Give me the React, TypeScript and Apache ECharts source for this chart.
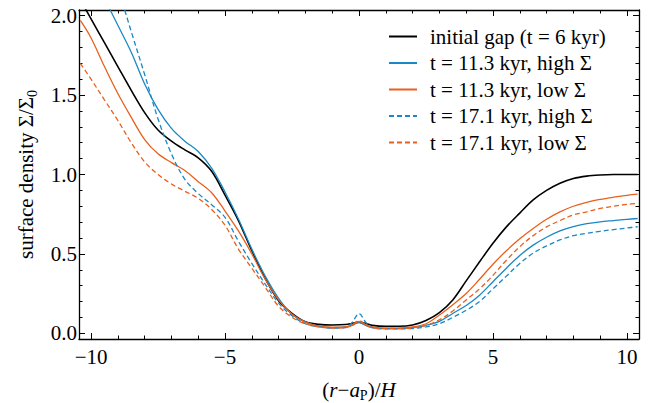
import React, { useEffect, useRef } from "react";
import * as echarts from "echarts";

const X_GRID = [-10.4, -10, -9.5, -9, -8.5, -8, -7.5, -7, -6.5, -6, -5.5, -5, -4.5, -4, -3.5, -3, -2.5, -2, -1.5, -1, -0.5, -0.25, 0, 0.25, 0.5, 1, 1.5, 2, 2.5, 3, 3.5, 4, 4.5, 5, 5.5, 6, 6.5, 7, 7.5, 8, 8.5, 9, 9.5, 10, 10.4];

const initialGap = [2.10, 1.98, 1.83, 1.68, 1.53, 1.39, 1.28, 1.21, 1.155, 1.105, 1.02, 0.87, 0.71, 0.52, 0.345, 0.205, 0.125, 0.072, 0.056, 0.052, 0.055, 0.062, 0.07, 0.062, 0.05, 0.044, 0.044, 0.052, 0.08, 0.13, 0.21, 0.33, 0.45, 0.567, 0.67, 0.757, 0.84, 0.90, 0.945, 0.975, 0.99, 0.997, 1.0, 1.0, 1.0];
const highSigma113 = [null, null, 2.11, 1.94, 1.77, 1.57, 1.41, 1.29, 1.21, 1.145, 1.04, 0.89, 0.72, 0.53, 0.36, 0.22, 0.12, 0.07, 0.045, 0.035, 0.04, 0.05, 0.068, 0.05, 0.035, 0.03, 0.03, 0.035, 0.05, 0.075, 0.125, 0.175, 0.24, 0.325, 0.41, 0.49, 0.555, 0.605, 0.645, 0.672, 0.69, 0.702, 0.71, 0.718, 0.723];
const lowSigma113 = [1.97, 1.86, 1.68, 1.51, 1.36, 1.22, 1.13, 1.075, 1.025, 0.955, 0.885, 0.77, 0.645, 0.50, 0.34, 0.21, 0.12, 0.07, 0.045, 0.038, 0.04, 0.055, 0.075, 0.055, 0.04, 0.032, 0.033, 0.04, 0.06, 0.115, 0.18, 0.25, 0.34, 0.435, 0.52, 0.595, 0.66, 0.718, 0.765, 0.80, 0.825, 0.843, 0.857, 0.869, 0.876];
const highSigma171 = [null, null, null, 2.18, 1.90, 1.63, 1.35, 1.13, 0.97, 0.88, 0.81, 0.73, 0.58, 0.44, 0.31, 0.19, 0.11, 0.06, 0.04, 0.032, 0.035, 0.07, 0.125, 0.07, 0.035, 0.028, 0.028, 0.03, 0.04, 0.06, 0.10, 0.145, 0.20, 0.28, 0.36, 0.44, 0.505, 0.55, 0.588, 0.615, 0.63, 0.642, 0.653, 0.663, 0.671];
const lowSigma171 = [1.70, 1.60, 1.47, 1.34, 1.20, 1.08, 1.00, 0.94, 0.895, 0.85, 0.78, 0.68, 0.53, 0.41, 0.29, 0.17, 0.10, 0.06, 0.04, 0.033, 0.035, 0.05, 0.08, 0.05, 0.035, 0.03, 0.03, 0.034, 0.05, 0.085, 0.14, 0.21, 0.28, 0.365, 0.46, 0.545, 0.615, 0.67, 0.71, 0.745, 0.765, 0.786, 0.80, 0.812, 0.818];

const SERIES_NAMES = [
  "initial gap (t = 6 kyr)",
  "t = 11.3 kyr, high Σ",
  "t = 11.3 kyr, low Σ",
  "t = 17.1 kyr, high Σ",
  "t = 17.1 kyr, low Σ",
];

const X_MAJOR = [-10, -5, 0, 5, 10];
const X_MINOR = [-10, -9, -8, -7, -6, -5, -4, -3, -2, -1, 0, 1, 2, 3, 4, 5, 6, 7, 8, 9, 10];
const Y_MAJOR = [0, 0.5, 1.0, 1.5, 2.0];
const Y_MINOR = [0, 0.1, 0.2, 0.3, 0.4, 0.5, 0.6, 0.7, 0.8, 0.9, 1.0, 1.1, 1.2, 1.3, 1.4, 1.5, 1.6, 1.7, 1.8, 1.9, 2.0];

const X_MIN = -10.45, X_MAX = 10.45, Y_MIN = -0.036, Y_MAX = 2.036;

const BLUE = "#1a88c4";
const ORANGE = "#e8601c";
const FONT = "Liberation Serif";
const FS = 21;

export default function App() {
  const ref = useRef<HTMLDivElement>(null);
  useEffect(() => {
    if (!ref.current) return;
    const chart = echarts.init(ref.current, null, { renderer: "svg" });
    const pairs = (ys: (number | null)[]) => X_GRID.map((x, i) => [x, ys[i]]);
    const axisBase = (min: number, max: number) => ({
      type: "value" as const,
      min,
      max,
      splitLine: { show: false },
    });
    const mkX = (pos: string, vals: number[], len: number, labels: boolean, line: boolean) => ({
      ...axisBase(X_MIN, X_MAX),
      position: pos,
      axisLine: { show: line, onZero: false, lineStyle: { color: "#000", width: 1.3 } },
      axisTick: { show: true, inside: true, length: len, customValues: vals, lineStyle: { color: "#000", width: 1 } },
      axisLabel: labels
        ? { show: true, customValues: vals, margin: 7, color: "#000", fontFamily: FONT, fontSize: FS, formatter: (v: number) => String(v).replace("-", "\u2212") }
        : { show: false },
    });
    const mkY = (pos: string, vals: number[], len: number, labels: boolean, line: boolean) => ({
      ...axisBase(Y_MIN, Y_MAX),
      position: pos,
      axisLine: { show: line, onZero: false, lineStyle: { color: "#000", width: 1.3 } },
      axisTick: { show: true, inside: true, length: len, customValues: vals, lineStyle: { color: "#000", width: 1 } },
      axisLabel: labels
        ? { show: true, customValues: vals, margin: 2, color: "#000", fontFamily: FONT, fontSize: FS, formatter: (v: number) => v.toFixed(1) }
        : { show: false },
    });
    const xAxes = [
      { ...mkX("bottom", X_MAJOR, 6, true, true), name: "({i|r}\u2212{i|a}{sub|P})/{i|H}", nameLocation: "middle", nameGap: 39,
        nameTextStyle: { color: "#000", fontFamily: FONT, fontSize: FS, lineHeight: 24,
          rich: { i: { fontStyle: "italic", fontFamily: FONT, fontSize: FS, color: "#000" }, sub: { fontFamily: FONT, fontSize: 14, color: "#000", verticalAlign: "bottom", lineHeight: 11 } } } },
      mkX("bottom", X_MINOR, 3.5, false, false),
      mkX("top", X_MAJOR, 6, false, true),
      mkX("top", X_MINOR, 3.5, false, false),
    ];
    const yAxes = [
      { ...mkY("left", Y_MAJOR, 6, true, true), name: "surface density Σ/Σ{sub|0}", nameLocation: "middle", nameGap: 40, nameRotate: 90,
        nameTextStyle: { color: "#000", fontFamily: FONT, fontSize: FS, lineHeight: 26,
          rich: { sub: { fontFamily: FONT, fontSize: 14, color: "#000", verticalAlign: "bottom", lineHeight: 11 } } } },
      mkY("left", Y_MINOR, 3.5, false, false),
      mkY("right", Y_MAJOR, 6, false, true),
      mkY("right", Y_MINOR, 3.5, false, false),
    ];
    const line = (name: string, data: (number | null)[], color: string, dashed: boolean, width: number) => ({
      type: "line",
      name,
      data: pairs(data),
      xAxisIndex: 0,
      yAxisIndex: 0,
      smooth: 0.35,
      showSymbol: false,
      symbol: "none",
      clip: true,
      lineStyle: { color, width, type: dashed ? [5, 3] : "solid" },
      itemStyle: { color },
    });
    chart.setOption({
      animation: false,
      grid: { left: 79, right: 10, top: 10, bottom: 64, containLabel: false, outerBoundsMode: "none" },
      xAxis: xAxes,
      yAxis: yAxes,
      legend: {
        show: true,
        orient: "vertical",
        left: 383,
        top: 21,
        itemWidth: 28,
        itemHeight: 12,
        itemGap: 5.5,
        itemStyle: { opacity: 0 },
        textStyle: { color: "#000", fontFamily: FONT, fontSize: FS, padding: [0, 0, 0, 8] },
        data: SERIES_NAMES,
      },
      series: [
        line(SERIES_NAMES[0], initialGap, "#000", false, 1.6),
        line(SERIES_NAMES[1], highSigma113, BLUE, false, 1.3),
        line(SERIES_NAMES[2], lowSigma113, ORANGE, false, 1.3),
        line(SERIES_NAMES[3], highSigma171, BLUE, true, 1.3),
        line(SERIES_NAMES[4], lowSigma171, ORANGE, true, 1.3),
      ],
    });
    return () => chart.dispose();
  }, []);
  return <div ref={ref} style={{ position: "fixed", left: 0, top: 0, width: 649, height: 403, background: "#fff" }} />;
}
